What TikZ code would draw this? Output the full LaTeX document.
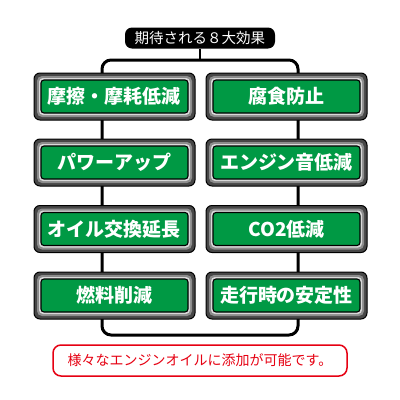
\documentclass[tikz,border=0pt]{standalone}
\usepackage{fontspec}
\setmainfont{Noto Sans CJK JP}
\definecolor{boxgreen}{RGB}{0,153,68}
\definecolor{notered}{RGB}{230,0,18}
\begin{document}
\begin{tikzpicture}[x=1pt,y=-1pt,
  frameo/.style={draw=black, line width=1pt, rounded corners=6pt, fill=black!72, minimum width=161pt, minimum height=47pt, inner sep=0pt},
  framem/.style={rounded corners=5pt, fill=black!45, minimum width=155pt, minimum height=41pt, inner sep=0pt},
  framei/.style={rounded corners=4pt, fill=black!15, minimum width=151pt, minimum height=37pt, inner sep=0pt},
  greenbox/.style={draw=black, line width=1.1pt, rounded corners=3pt, fill=boxgreen, minimum width=147pt, minimum height=33pt, inner sep=0pt, text=white, font=\fontsize{19}{19}\selectfont\bfseries},
  bracket/.style={line width=3pt, rounded corners=9pt}]
\useasboundingbox[fill=white] (0,0) rectangle (400,400);
% bracket frame
\coordinate (bt) at (200,60);
\draw[bracket] (102,60) rectangle (298,335);
% title
\node[fill=black, rounded corners=7pt, minimum width=150pt, minimum height=21pt, inner sep=0pt, text=white, font=\fontsize{14.5}{14.5}\selectfont] (title) at (200,38) {期待される８大効果};
\draw[line width=2pt] (title.south) -- (bt);
% boxes
\foreach \x/\y/\n/\t in {114.5/96.5/a/摩擦・摩耗低減, 286.5/96.5/b/腐食防止,
  114.5/162.5/c/パワーアップ, 286.5/162.5/d/エンジン音低減,
  114.5/229/e/オイル交換延長, 286.5/229/f/CO2低減,
  114.5/295.5/g/燃料削減, 286.5/295.5/h/走行時の安定性}{
  \node[frameo] (o\n) at (\x,\y) {};
  \node[framem] (m\n) at (o\n) {};
  \node[framei] (i\n) at (o\n) {};
  \node[greenbox] (\n) at (o\n) {\t};
}
% note
\node[draw=notered, line width=1.5pt, rounded corners=8pt, fill=white, minimum width=294pt, minimum height=31pt, inner sep=0pt, text=notered, font=\fontsize{14}{14}\selectfont] (note) at (200,360.5) {様々なエンジンオイルに添加が可能です。};
\end{tikzpicture}
\end{document}
